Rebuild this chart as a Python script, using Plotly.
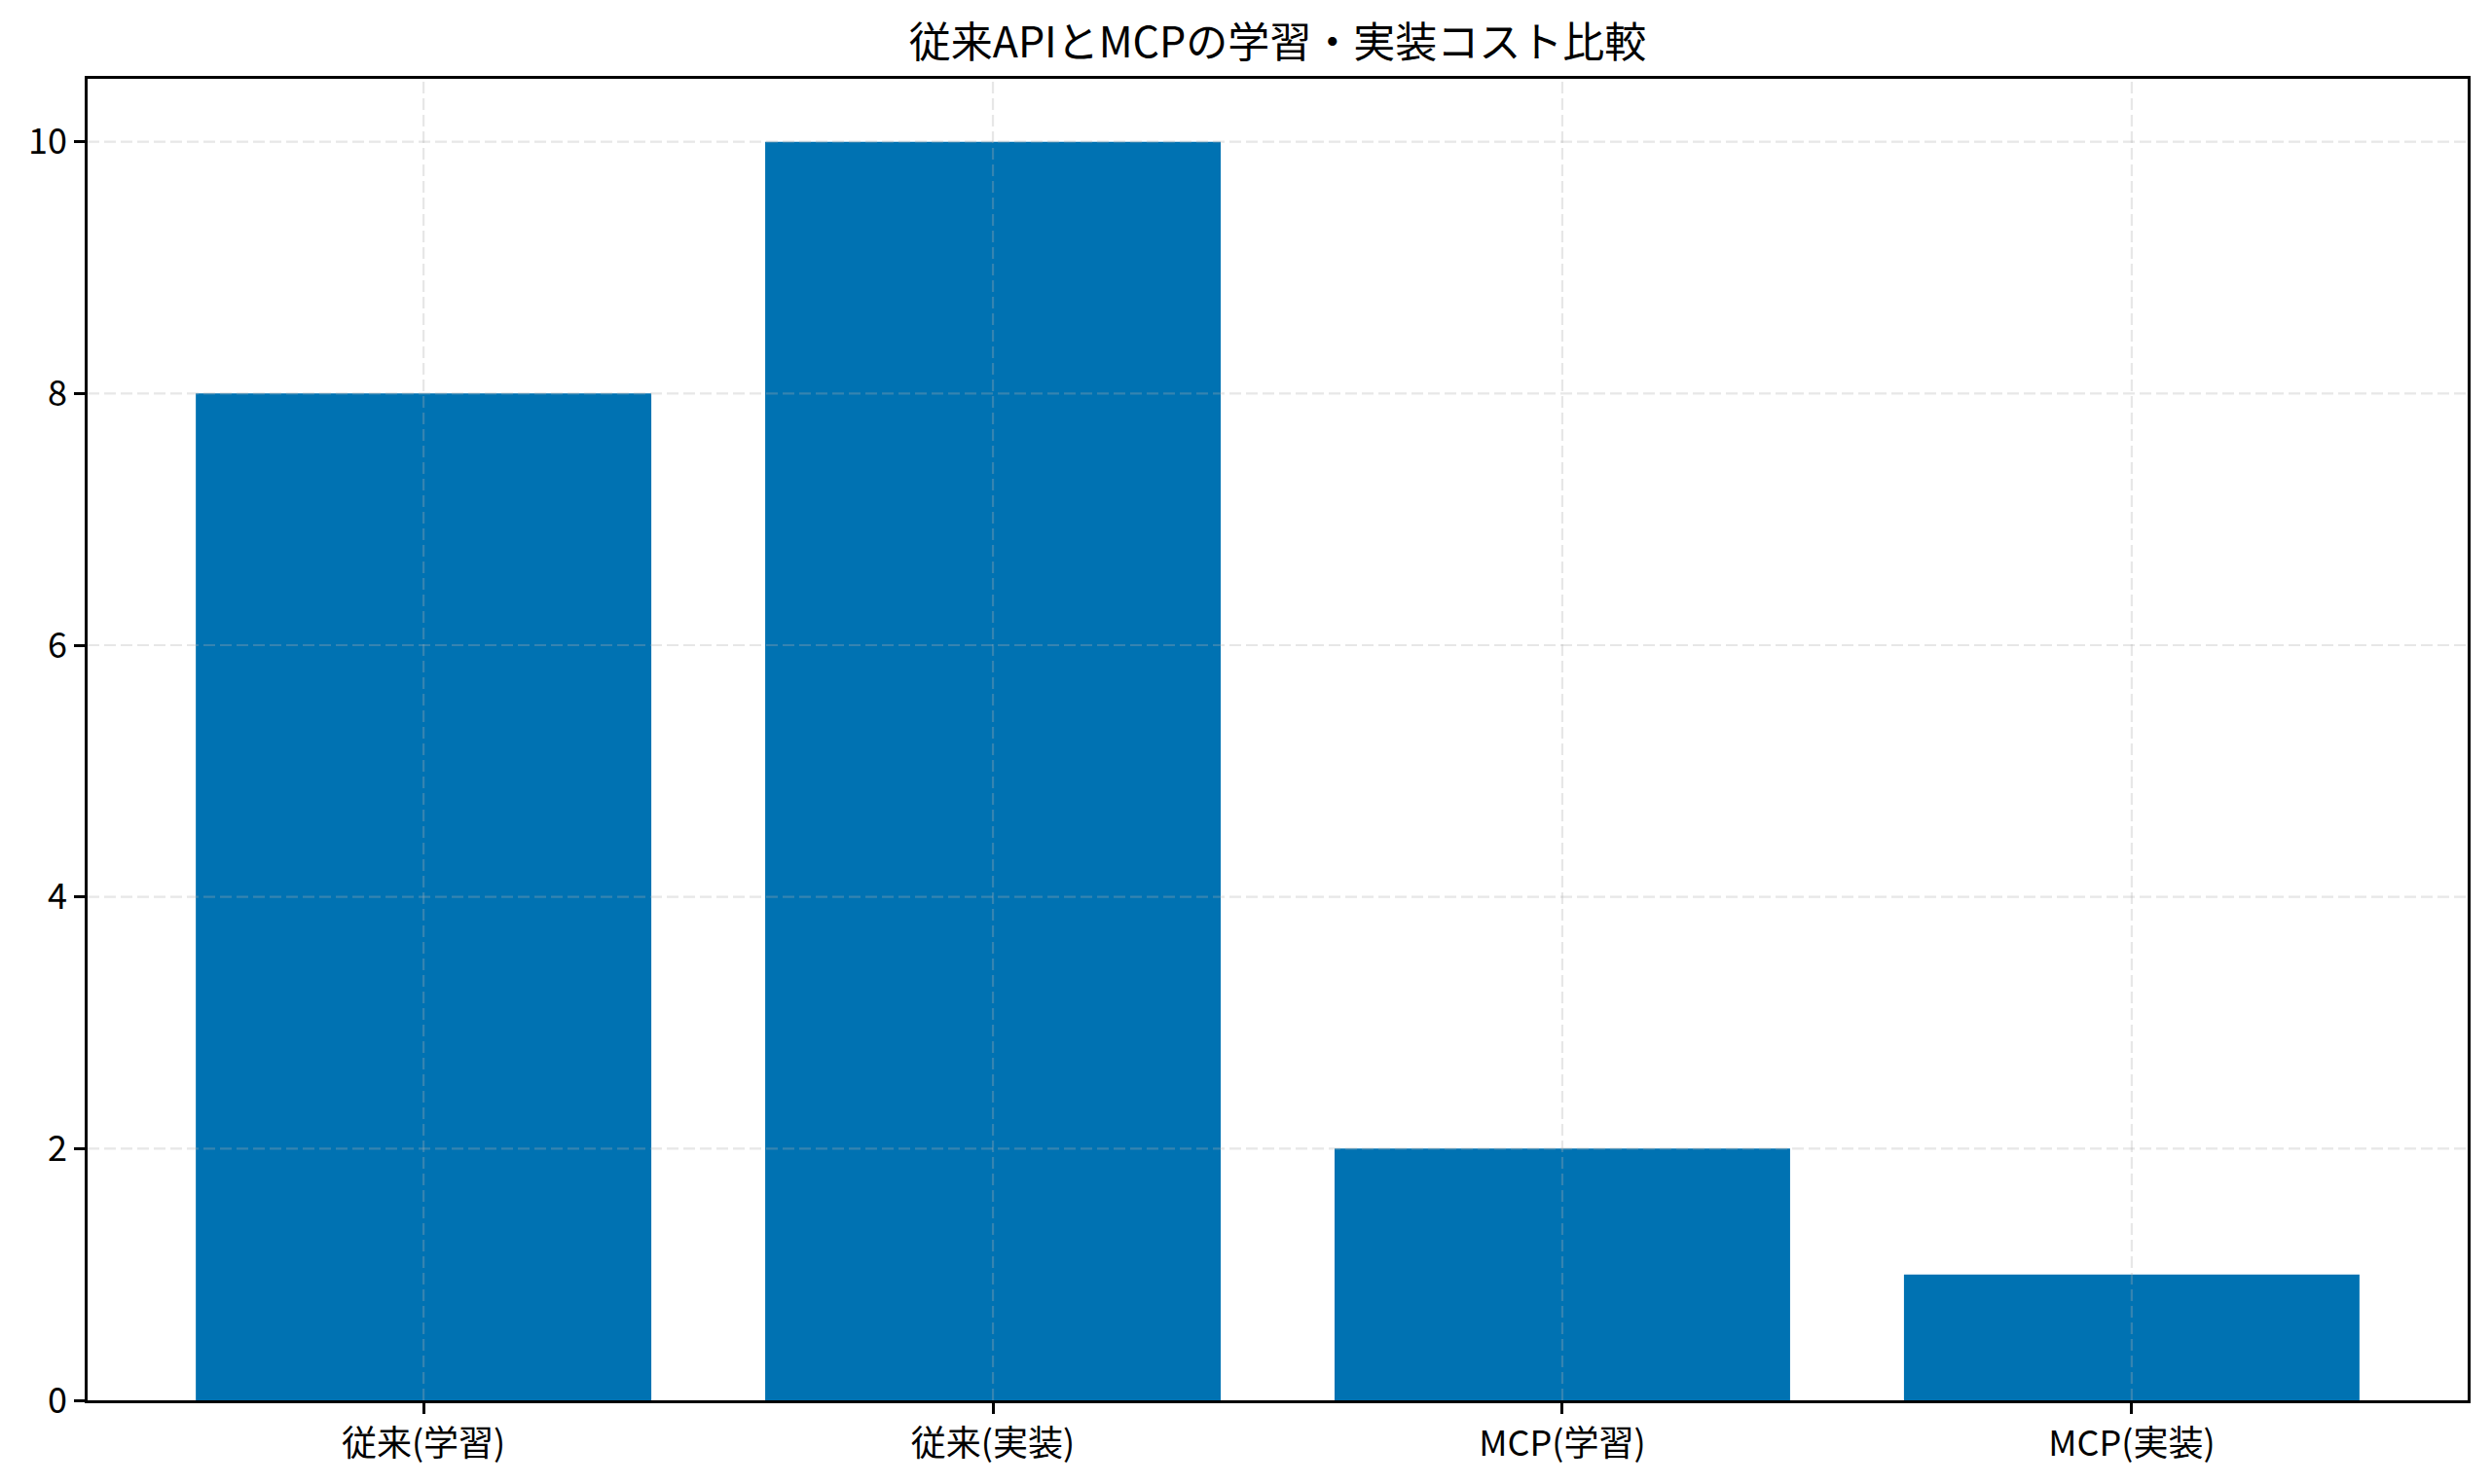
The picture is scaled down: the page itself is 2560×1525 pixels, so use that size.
import plotly.graph_objects as go

# Data
categories = ["従来(学習)", "従来(実装)", "MCP(学習)", "MCP(実装)"]
costs = [8, 10, 2, 1]
y_ticks = [0, 2, 4, 6, 8, 10]

FONT = "Noto Sans CJK JP"
GRID = "rgba(176,176,176,0.3)"
X_RANGE = [-0.59, 3.59]
Y_RANGE = [0, 10.5]

fig = go.Figure(
    go.Bar(
        x=list(range(len(categories))),
        y=costs,
        marker=dict(color="#0072B2", line=dict(width=0)),
        width=0.8,
    )
)

# grid drawn above the bars (matplotlib style with axisbelow off)
gx, gy = [], []
for t in y_ticks[1:]:
    gx += [X_RANGE[0], X_RANGE[1], None]
    gy += [t, t, None]
for i in range(len(categories)):
    gx += [i, i, None]
    gy += [Y_RANGE[0], Y_RANGE[1], None]
fig.add_trace(go.Scatter(
    x=gx, y=gy, mode="lines", hoverinfo="skip",
    line=dict(color=GRID, width=2.2, dash="12px,5px"),
))

axis_common = dict(
    showline=True,
    linecolor="black",
    linewidth=2.7,
    mirror=True,
    ticks="outside",
    ticklen=11,
    tickwidth=2.5,
    tickcolor="black",
    showgrid=False,
    zeroline=False,
    tickfont=dict(family=FONT, size=36, color="black"),
)

fig.update_xaxes(range=X_RANGE, tickvals=list(range(len(categories))),
                 ticktext=categories, **axis_common)
fig.update_yaxes(range=Y_RANGE, tickvals=y_ticks, **axis_common)

fig.update_layout(
    title=dict(
        text="従来APIとMCPの学習・実装コスト比較",
        font=dict(family=FONT, size=43, color="black"),
        x=(90 + 2535) / 2 / 2560,
        xanchor="center",
        y=1 - 44 / 1525,
        yanchor="middle",
    ),
    width=2560,
    height=1525,
    margin=dict(l=90, r=25, t=81, b=86),
    plot_bgcolor="white",
    paper_bgcolor="white",
    showlegend=False,
    font=dict(family=FONT),
)

fig.write_html("out.html", config={"displayModeBar": False},
               post_script="document.body.style.margin='0';")
